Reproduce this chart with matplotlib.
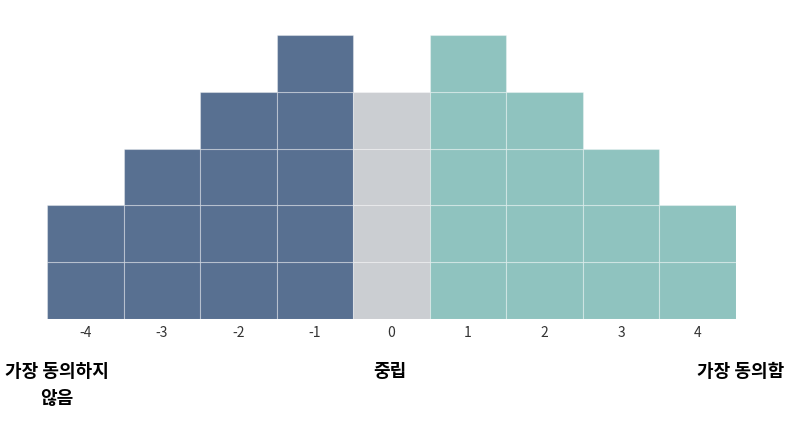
import matplotlib.pyplot as plt

plt.rcParams['font.family'] = ['Noto Sans CJK KR', 'DejaVu Sans']

# q-sort grid: number of cells per score
scores = [-4, -3, -2, -1, 0, 1, 2, 3, 4]
counts = [2, 3, 4, 5, 4, 5, 4, 3, 2]
end_labels = ['가장 동의하지\n않음', '중립', '가장 동의함']

blue = '#587091'
grey = '#cbced2'
teal = '#8fc3bf'
colors = [blue if s < 0 else grey if s == 0 else teal for s in scores]

fig = plt.figure(figsize=(8, 4.27), dpi=100)
ax = fig.add_axes([0.05875, 0.2506, 0.86125, 0.665])

# one bar per cell so the thin grid lines show
for level in range(max(counts)):
    xs = [s for s, c in zip(scores, counts) if c > level]
    cs = [col for col, c in zip(colors, counts) if c > level]
    ax.bar(xs, [1] * len(xs), bottom=level, width=1.0, color=cs,
           edgecolor=(1, 1, 1, 0.35), linewidth=0.8)

ax.set_xlim(scores[0] - 0.5, scores[-1] + 0.5)
ax.set_ylim(0, max(counts))
ax.set_xticks(scores)
ax.set_xticklabels([str(s) for s in scores], fontsize=10, color='#333333')
ax.tick_params(axis='x', length=0, pad=4)
ax.set_yticks([])
for sp in ax.spines.values():
    sp.set_visible(False)

# end labels under the axis
ytop = 1 - 362 / 427
fig.text(57 / 800, ytop, end_labels[0], ha='center', va='top',
         fontsize=13, fontweight='bold', linespacing=1.55)
fig.text(390 / 800, ytop, end_labels[1], ha='center', va='top',
         fontsize=13, fontweight='bold')
fig.text(741 / 800, ytop, end_labels[2], ha='center', va='top',
         fontsize=13, fontweight='bold')

fig.savefig('out.png', dpi=100)
